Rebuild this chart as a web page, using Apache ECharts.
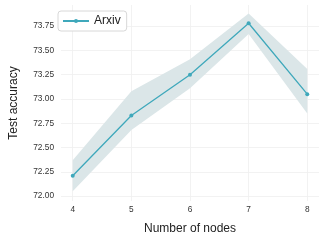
<!DOCTYPE html>
<html><head><meta charset="utf-8">
<script src="https://cdn.jsdelivr.net/npm/echarts@6/dist/echarts.min.js"></script>
<style>html,body{margin:0;padding:0;background:#fff}#c{width:324px;height:240px}</style>
</head><body><div id="c"></div>
<script>
const nodes = [4, 5, 6, 7, 8];
const accuracy = [72.21, 72.83, 73.25, 73.78, 73.05];
const lower = [72.05, 72.68, 73.11, 73.67, 72.85];
const upper = [72.37, 73.08, 73.41, 73.88, 73.31];
const yTicks = [72.00, 72.25, 72.50, 72.75, 73.00, 73.25, 73.50, 73.75];
const xTicks = [4, 5, 6, 7, 8];
const seriesName = 'Arxiv';

const lineColor = '#3fa8bb';
const bandColor = '#dbe6e8';
const font = 'Liberation Sans';
const chart = echarts.init(document.getElementById('c'), null, {renderer: 'canvas'});
chart.setOption({
  animation: false,
  backgroundColor: '#fff',
  grid: {left: 52, right: 5, top: 5, bottom: 35},
  legend: {
    data: [seriesName], left: 58, top: 11, orient: 'vertical',
    backgroundColor: '#fff', borderColor: '#d8d8d8', borderWidth: 1, borderRadius: 3,
    padding: [4, 6, 4, 4], itemWidth: 26, itemHeight: 5, itemGap: 0,
    textStyle: {fontSize: 12, color: '#222', fontFamily: font}
  },
  xAxis: {
    type: 'value', min: 3.8, max: 8.2,
    name: 'Number of nodes', nameLocation: 'middle', nameGap: 22,
    nameTextStyle: {fontSize: 12, color: '#222', fontFamily: font},
    axisLine: {show: false},
    axisTick: {show: false, customValues: xTicks},
    axisLabel: {customValues: xTicks, fontSize: 8.3, color: '#333', margin: 5, fontFamily: font},
    splitLine: {show: true, lineStyle: {color: '#efefef', width: 0.8}}
  },
  yAxis: {
    type: 'value', min: 71.95, max: 73.968,
    name: 'Test accuracy', nameLocation: 'middle', nameGap: 41,
    nameTextStyle: {fontSize: 12, color: '#222', fontFamily: font},
    axisLine: {show: false},
    axisTick: {show: false, customValues: yTicks},
    axisLabel: {customValues: yTicks, fontSize: 8.3, color: '#333', margin: 7, fontFamily: font,
      formatter: v => v.toFixed(2)},
    splitLine: {show: true, lineStyle: {color: '#efefef', width: 0.8}}
  },
  series: [
    {type: 'custom', silent: true, z: 1,
     data: nodes.map((x, i) => [x, lower[i], upper[i]]),
     renderItem: function (params, api) {
       if (params.dataIndex !== 0) return null;
       const top = nodes.map((x, i) => api.coord([x, upper[i]]));
       const bot = nodes.map((x, i) => api.coord([x, lower[i]])).reverse();
       return {type: 'polygon', shape: {points: top.concat(bot)}, style: {fill: bandColor}};
     },
     clip: false},
    {type: 'line', name: seriesName, data: nodes.map((x, i) => [x, accuracy[i]]),
     symbol: 'circle', symbolSize: 4, showSymbol: true,
     itemStyle: {color: lineColor}, lineStyle: {color: lineColor, width: 1.3}, z: 3}
  ]
});
</script></body></html>
